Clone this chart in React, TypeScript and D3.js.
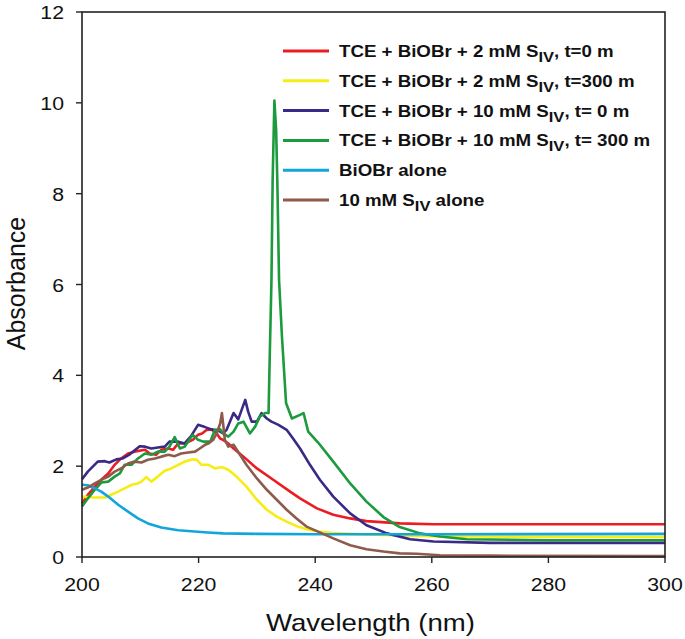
import * as d3 from 'd3';

// wavelength (nm), absorbance pairs
const red2mM0: [number, number][] = [
  [200, 1.18], [201, 1.37], [202.2, 1.55], [203.3, 1.7], [204.5, 1.84], [205.6, 2.03], [206.7, 2.17],
  [207.9, 2.28], [209, 2.32], [210.8, 2.36], [211.6, 2.28], [212.7, 2.25], [213.6, 2.36], [214.8, 2.39],
  [215.6, 2.36], [216.5, 2.5], [217.6, 2.5], [219, 2.58], [219.9, 2.69], [220.6, 2.72], [221.4, 2.8],
  [222.2, 2.81], [223.1, 2.72], [223.7, 2.61], [224.2, 2.58], [225.1, 2.5], [226, 2.39], [227.7, 2.21],
  [230, 1.95], [232.8, 1.7], [235.7, 1.44], [237.4, 1.29], [240.3, 1.07], [243.1, 0.93], [246, 0.85],
  [248.8, 0.79], [254.5, 0.74], [260.3, 0.72], [300, 0.72],
];

const yellow2mM300: [number, number][] = [
  [200, 1.33], [202, 1.31], [204, 1.31], [205, 1.37], [206.2, 1.44], [207.3, 1.51], [208.5, 1.59],
  [209.6, 1.62], [210.2, 1.66], [211, 1.76], [211.9, 1.66], [213, 1.77], [214.2, 1.9], [215.3, 1.95],
  [216.5, 2.03], [217.6, 2.1], [219, 2.15], [219.7, 2.14], [220.5, 2.03], [221.7, 2.03], [222.8, 1.95],
  [224, 1.98], [225.1, 1.92], [226.5, 1.77], [228.2, 1.55], [230, 1.26], [231.7, 1.04], [233.4, 0.89],
  [235.1, 0.78], [236.8, 0.68], [238.5, 0.61], [240.5, 0.56], [243.1, 0.53], [246, 0.51], [250, 0.49],
  [260, 0.46], [270, 0.45], [300, 0.44],
];

const purple10mM0: [number, number][] = [
  [200, 1.71], [201, 1.88], [202.7, 2.1], [203.9, 2.11], [204.7, 2.08], [205.9, 2.15], [207, 2.17],
  [208.2, 2.26], [209.9, 2.44], [210.8, 2.43], [211.9, 2.39], [213, 2.41], [214.2, 2.43], [215, 2.54],
  [216.5, 2.54], [217.6, 2.5], [218.7, 2.66], [219.9, 2.91], [221.1, 2.86], [222.2, 2.81], [223.4, 2.78],
  [224.2, 2.72], [224.8, 2.8], [226, 3.17], [226.8, 3.03], [228, 3.46], [228.5, 3.2], [229.1, 2.98],
  [230, 2.98], [230.8, 3.17], [231.7, 3.05], [232.5, 2.98], [233.7, 2.91], [235.1, 2.8], [236.2, 2.61],
  [237.4, 2.39], [239.1, 2.03], [240.8, 1.7], [243.1, 1.33], [246, 0.96], [248.8, 0.7], [252.3, 0.52],
  [256.3, 0.39], [260.3, 0.34], [270, 0.31], [300, 0.31],
];

const green10mM300: [number, number][] = [
  [200, 1.11], [201, 1.29], [202.2, 1.48], [203.3, 1.64], [204.5, 1.66], [205.6, 1.77], [206.5, 1.84],
  [207.3, 2.03], [208.5, 2.03], [209.6, 2.17], [210.8, 2.28], [211.9, 2.25], [213, 2.32], [214.2, 2.32],
  [215, 2.43], [215.9, 2.64], [216.8, 2.39], [217.6, 2.43], [219, 2.69], [219.9, 2.58], [220.8, 2.54],
  [222, 2.54], [222.8, 2.8], [223.7, 2.81], [224.2, 2.72], [225.1, 2.65], [226, 2.76], [226.8, 2.94],
  [227.7, 2.98], [228.8, 2.72], [229.7, 2.87], [230.5, 3.09], [231.4, 3.17], [232, 3.17], [232.2, 4.41],
  [232.5, 6.1], [232.7, 8.3], [233, 10.05], [233.3, 9.4], [233.5, 8.3], [233.8, 6.1], [234.3, 4.85],
  [235, 3.39], [236, 3.05], [237.4, 3.13], [238, 3.17], [238.8, 2.76], [240.5, 2.52], [243.1, 2.1],
  [246, 1.62], [248.8, 1.22], [251.7, 0.88], [254.5, 0.66], [258, 0.52], [261.4, 0.45], [266, 0.39],
  [280, 0.37], [300, 0.37],
];

const blueBiOBr: [number, number][] = [
  [200, 1.59], [201, 1.58], [202.2, 1.51], [203.3, 1.44], [204.5, 1.33], [206.2, 1.15], [207.9, 1.0],
  [209.6, 0.85], [211.3, 0.74], [213.6, 0.65], [216.5, 0.59], [219.3, 0.56], [221.6, 0.54], [224.2, 0.52],
  [230, 0.51], [240, 0.5], [260, 0.5], [300, 0.51],
];

const brownSIV: [number, number][] = [
  [200, 1.48], [201, 1.53], [202.2, 1.62], [203.3, 1.7], [204.5, 1.77], [205.6, 1.88], [206.7, 1.95],
  [207.9, 2.06], [209, 2.1], [210.2, 2.08], [211.3, 2.14], [212.5, 2.17], [213.6, 2.21], [214.8, 2.25],
  [215.9, 2.22], [217, 2.28], [218.2, 2.3], [219.4, 2.32], [220.2, 2.39], [221.1, 2.47], [221.7, 2.5],
  [222.5, 2.58], [223.1, 2.72], [223.7, 2.94], [224, 3.17], [224.2, 2.94], [224.5, 2.58], [225.1, 2.43],
  [226, 2.47], [227.1, 2.25], [228.2, 2.03], [230, 1.73], [231.7, 1.48], [233.4, 1.26], [235.1, 1.04],
  [236.8, 0.85], [238.5, 0.67], [240.3, 0.57], [243.1, 0.41], [246, 0.26], [248.8, 0.17], [251.7, 0.12],
  [254.5, 0.08], [257.4, 0.07], [261.4, 0.04], [270, 0.03], [300, 0.02],
];

const seriesData = [red2mM0, yellow2mM300, purple10mM0, green10mM300, blueBiOBr, brownSIV];
const seriesColors = ['#ec1c24', '#f7ec13', '#3a2a86', '#1b9a3e', '#12a5dc', '#8e5a4a'];
const legendLabels: [string, string, string][] = [
  ['TCE + BiOBr + 2 mM S', 'IV', ', t=0 m'],
  ['TCE + BiOBr + 2 mM S', 'IV', ', t=300 m'],
  ['TCE + BiOBr + 10 mM S', 'IV', ', t= 0 m'],
  ['TCE + BiOBr + 10 mM S', 'IV', ', t= 300 m'],
  ['BiOBr alone', '', ''],
  ['10 mM S', 'IV', ' alone'],
];
const xDomain: [number, number] = [200, 300];
const yDomain: [number, number] = [0, 12];
const xTicks = [200, 220, 240, 260, 280, 300];
const yTicks = [0, 2, 4, 6, 8, 10, 12];

const W = 685;
const H = 639;
const margin = { top: 12, right: 20, bottom: 82, left: 82 };
const font = '"Liberation Sans", Arial, sans-serif';
const axisColor = '#222';

export default function App() {
  const x = d3.scaleLinear().domain(xDomain).range([margin.left, W - margin.right]);
  const y = d3.scaleLinear().domain(yDomain).range([H - margin.bottom, margin.top]);
  const line = d3.line<[number, number]>().x(d => x(d[0])).y(d => y(d[1]));
  const x0 = x.range()[0], x1 = x.range()[1];
  const y0 = y.range()[0], y1 = y.range()[1];

  return (
    <svg width={W} height={H} style={{ position: 'absolute', left: 0, top: 0, background: '#fff' }}
      fontFamily={font}>
      {/* series */}
      {seriesData.map((s, i) => (
        <path key={i} d={line(s) || ''} fill="none" stroke={seriesColors[i]} strokeWidth={2.6}
          strokeLinejoin="round" />
      ))}

      {/* frame */}
      <rect x={x0} y={y1} width={x1 - x0} height={y0 - y1} fill="none" stroke={axisColor} strokeWidth={1.6} />

      {/* x axis */}
      {xTicks.map(t => (
        <g key={t}>
          <line x1={x(t)} x2={x(t)} y1={y0} y2={y0 + 6} stroke={axisColor} strokeWidth={1.4} />
          <text transform={`translate(${x(t)},${y0 + 34}) scale(1.12,1)`} textAnchor="middle" fontSize={19}
            fill="#111">{t}</text>
        </g>
      ))}
      <text transform={`translate(${(x0 + x1) / 2 - 3},${H - 8}) scale(1.15,1)`} textAnchor="middle"
        fontSize={24} fill="#111">Wavelength (nm)</text>

      {/* y axis */}
      {yTicks.map(t => (
        <g key={t}>
          <line x1={x0 - 6} x2={x0} y1={y(t)} y2={y(t)} stroke={axisColor} strokeWidth={1.4} />
          <text transform={`translate(${x0 - 18},${y(t) + 7}) scale(1.12,1)`} textAnchor="end" fontSize={19}
            fill="#111">{t}</text>
        </g>
      ))}
      <text transform={`translate(25,${(y0 + y1) / 2 - 1}) rotate(-90)`} textAnchor="middle" fontSize={25}
        fill="#111">Absorbance</text>

      {/* legend */}
      {legendLabels.map((lab, i) => {
        const ly = 51 + i * 29.8;
        return (
          <g key={i}>
            <line x1={283} x2={329} y1={ly} y2={ly} stroke={seriesColors[i]} strokeWidth={3} />
            <text transform={`translate(339,${ly + 6}) scale(1.1,1)`} fontSize={17} fontWeight="bold"
              fill="#111">
              {lab[0]}
              {lab[1] && <tspan fontSize={15} dy={5}>{lab[1]}</tspan>}
              {lab[2] && <tspan fontSize={17} dy={lab[1] ? -5 : 0}>{lab[2]}</tspan>}
            </text>
          </g>
        );
      })}
    </svg>
  );
}
